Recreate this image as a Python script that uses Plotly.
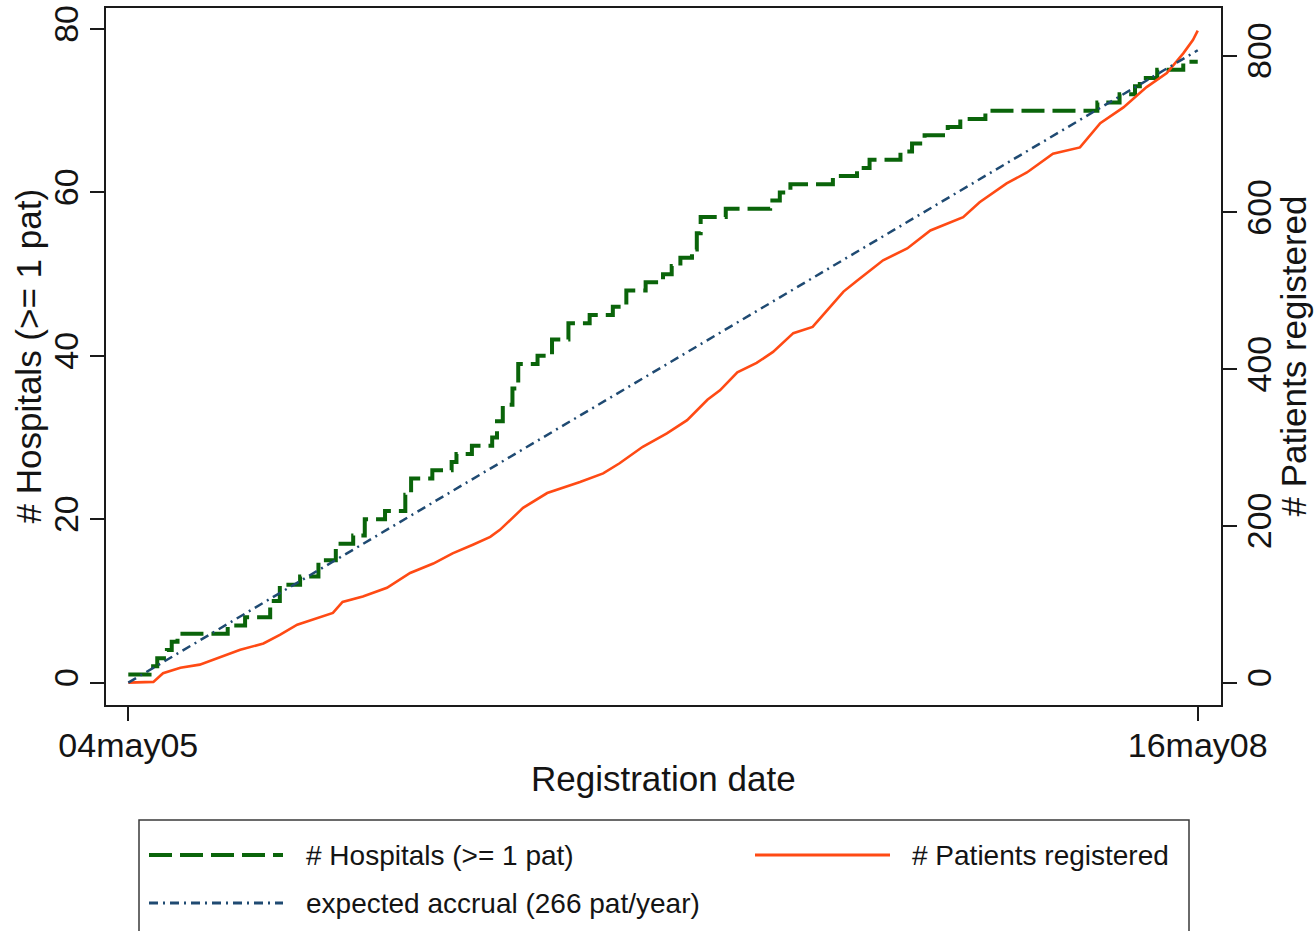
import pandas as pd
import plotly.graph_objects as go

# ---------------- data ----------------
start_date = "2005-05-04"
end_date = "2008-05-16"

# Hospitals with >= 1 patient: step function (days since start, count)
hosp_days = [0, 22, 30, 40, 45, 51, 103, 121, 147, 157, 178, 197, 215, 233, 245, 266,
             287, 293, 315, 335, 340, 356, 377, 382, 388, 398, 404, 424, 439, 456, 478,
             502, 516, 536, 554, 563, 572, 584, 589, 593, 619, 665, 675, 686, 730, 755,
             768, 800, 812, 825, 849, 862, 888, 1004, 1027, 1043, 1048, 1066, 1093, 1108]
hosp_count = [1, 2, 3, 4, 5, 6, 7, 8, 10, 12, 13, 15, 17, 18, 20, 21, 23, 25, 26, 27,
              28, 29, 30, 32, 34, 36, 39, 40, 42, 44, 45, 46, 48, 49, 50, 51, 52, 53, 55,
              57, 58, 59, 60, 61, 62, 63, 64, 65, 66, 67, 68, 69, 70, 71, 72, 73, 74, 75,
              76, 76]

# Patients registered (days since start, cumulative patients)
pat_days = [0, 26, 36, 54, 74, 95, 116, 140, 157, 175, 199, 212, 222, 243, 268, 292,
            316, 336, 357, 375, 385, 399, 409, 434, 468, 492, 509, 533, 558, 579, 600,
            613, 631, 651, 668, 689, 709, 724, 741, 755, 782, 807, 831, 865, 882, 910,
            931, 958, 986, 1007, 1031, 1055, 1076, 1093, 1103, 1108]
pat_count = [0, 1, 12, 19, 23, 33, 42, 50, 61, 74, 84, 89, 103, 110, 121, 140, 152,
             165, 176, 186, 195, 211, 223, 242, 256, 267, 280, 301, 318, 335, 361, 373,
             396, 408, 422, 446, 454, 475, 499, 513, 539, 554, 577, 594, 613, 637, 651,
             675, 683, 714, 734, 760, 778, 803, 820, 832]

# Expected accrual (266 pat/year), endpoints
exp_days = [0, 1108]
exp_count = [0, 807]

tick_labels = ["04may05", "16may08"]
legend_names = ["# Hospitals (>= 1 pat)", "# Patients registered",
                "expected accrual (266 pat/year)"]
axis_titles = ["Registration date", "# Hospitals (>= 1 pat)", "# Patients registered"]

# ---------------- styling ----------------
GREEN = "#0a640a"
RED = "#ff4a14"
BLUE = "#1f4a72"
FONT = "Liberation Sans, Arial, sans-serif"
TXT = "#141414"

base = pd.Timestamp(start_date)
def to_dates(days):
    return [base + pd.Timedelta(days=d) for d in days]

fig = go.Figure()
fig.add_trace(go.Scatter(x=to_dates(hosp_days), y=hosp_count, mode="lines",
                         line=dict(color=GREEN, width=4, dash="23px,8px", shape="hv"),
                         name=legend_names[0], showlegend=False, yaxis="y"))
fig.add_trace(go.Scatter(x=to_dates(pat_days), y=pat_count, mode="lines",
                         line=dict(color=RED, width=2.6),
                         name=legend_names[1], showlegend=False, yaxis="y2"))
fig.add_trace(go.Scatter(x=to_dates(exp_days), y=exp_count, mode="lines",
                         line=dict(color=BLUE, width=2.5, dash="9px,5px,2px,5px"),
                         name=legend_names[2], showlegend=False, yaxis="y2"))

# body margin is removed in the page (post_script), so figure sits at (0, 0)
W, H = 1316, 931
# plot area in page pixels
L, R, T, B = 106, 1221, 8, 705

x_lo = base - pd.Timedelta(days=23.1)
x_hi = base + pd.Timedelta(days=1132.1)

axis_common = dict(showline=True, linecolor="#1a1a1a", linewidth=2, ticks="outside",
                   ticklen=14, tickwidth=2, tickcolor="#1a1a1a", showgrid=False,
                   zeroline=False, ticklabeloverflow="allow",
                   tickfont=dict(family=FONT, size=34, color=TXT))

fig.update_layout(
    width=W, height=H,
    margin=dict(l=L, r=W - R, t=T, b=H - B, autoexpand=False),
    paper_bgcolor="white", plot_bgcolor="white",
    font=dict(family=FONT, color=TXT),
    xaxis=dict(**axis_common, range=[x_lo, x_hi], mirror=True,
               tickvals=[pd.Timestamp(start_date), pd.Timestamp(end_date)],
               ticktext=tick_labels, ticklabelstandoff=-5),
    yaxis=dict(**axis_common, range=[-2.73, 82.57], tickvals=[0, 20, 40, 60, 80],
               tickangle=-90, ticklabelstandoff=-2),
    yaxis2=dict(**axis_common, range=[-28.5, 860.9], tickvals=[0, 200, 400, 600, 800],
                tickangle=-90, overlaying="y", side="right", ticklabelstandoff=-7),
)

def px(xp):
    return (xp - L) / (R - L)
def py(yp):
    return (B - yp) / (B - T)

annotations = [
    dict(xref="paper", yref="paper", x=0.5, y=py(778), text=axis_titles[0],
         showarrow=False, xanchor="center", yanchor="middle",
         font=dict(family=FONT, size=35, color=TXT)),
    dict(xref="paper", yref="paper", x=px(28), y=0.5, text=axis_titles[1], textangle=-90,
         showarrow=False, xanchor="center", yanchor="middle",
         font=dict(family=FONT, size=35, color=TXT)),
    dict(xref="paper", yref="paper", x=px(1293), y=0.5, text=axis_titles[2], textangle=-90,
         showarrow=False, xanchor="center", yanchor="middle",
         font=dict(family=FONT, size=35, color=TXT)),
]

# ---------------- manual legend (long line samples like the original) ----------------
shapes = [dict(type="rect", xref="paper", yref="paper", x0=px(139), x1=px(1189),
               y0=py(990), y1=py(820), line=dict(color="#3a3a3a", width=1.5),
               fillcolor="rgba(0,0,0,0)", layer="above")]
rows = [(149, 283, 855, GREEN, 4, "23px,8px", 304, legend_names[0]),
        (755, 890, 855, RED, 3, "solid", 910, legend_names[1]),
        (149, 283, 903, BLUE, 3, "9px,5px,2px,5px", 304, legend_names[2])]
for x0, x1, yy, col, w, dash, tx, name in rows:
    shapes.append(dict(type="line", xref="paper", yref="paper", x0=px(x0), x1=px(x1),
                       y0=py(yy), y1=py(yy), line=dict(color=col, width=w, dash=dash)))
    annotations.append(dict(xref="paper", yref="paper", x=px(tx), y=py(yy), text=name,
                            showarrow=False, xanchor="left", yanchor="middle",
                            font=dict(family=FONT, size=28, color=TXT)))
fig.update_layout(shapes=shapes, annotations=annotations)

fig.write_html("out.html", config={"displayModeBar": False},
               post_script="document.body.style.margin='0';document.body.style.overflow='hidden';")
